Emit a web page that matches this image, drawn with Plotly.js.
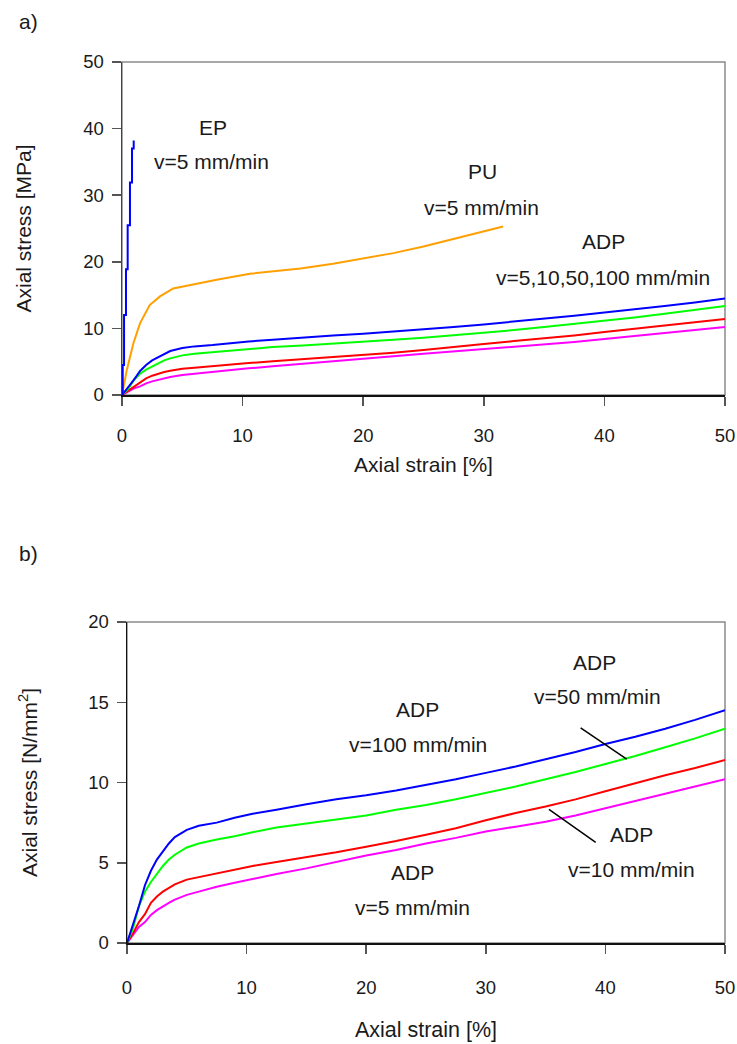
<!DOCTYPE html>
<html>
<head>
<meta charset="utf-8">
<script src="https://cdn.plot.ly/plotly-3.0.1.min.js"></script>
<style>
  html, body { margin: 0; padding: 0; background: #fff; }
  #chart { width: 737px; height: 1044px; }
</style>
</head>
<body>
<div id="chart"></div>
<script>
// Epoxy (EP), v = 5 mm/min
const epStrain = [0, 0.06, 0.17, 0.33, 0.47, 0.66, 0.83, 0.97];
const epStress = [0, 4.5, 12.0, 18.9, 25.5, 31.9, 37.0, 38.2];

// Polyurethane (PU), v = 5 mm/min
const puStrain = [0, 0.4, 0.95, 1.5, 2.3, 3.15, 4.25, 5.6, 7.85, 10.6, 14.8, 17.5, 20, 22.5, 25, 28, 31.6];
const puStress = [0, 3.75, 7.8, 10.8, 13.5, 14.8, 16.0, 16.5, 17.3, 18.2, 19.0, 19.7, 20.5, 21.3, 22.3, 23.7, 25.3];

// ADP, common strain grid [%]
const adpStrain = [0, 0.5, 1.0, 1.5, 2.0, 2.5, 3.0, 3.5, 4.0, 5.0, 6.0, 7.5, 9, 10.5, 12.5, 15, 17.5, 20, 22.5, 25, 27.5, 30, 32.5, 35, 37.5, 40, 42.5, 45, 47.5, 50];
// ADP stresses per test speed
const adp100 = [0, 1.1, 2.3, 3.6, 4.5, 5.2, 5.7, 6.2, 6.6, 7.05, 7.3, 7.5, 7.8, 8.05, 8.3, 8.65, 8.95, 9.2, 9.5, 9.85, 10.2, 10.6, 11.0, 11.45, 11.9, 12.4, 12.85, 13.35, 13.9, 14.5];
const adp50  = [0, 0.9, 2.3, 3.2, 3.8, 4.3, 4.8, 5.2, 5.5, 5.95, 6.2, 6.45, 6.65, 6.9, 7.2, 7.45, 7.7, 7.95, 8.3, 8.6, 8.95, 9.35, 9.75, 10.2, 10.65, 11.15, 11.65, 12.2, 12.75, 13.35];
const adp10  = [0, 0.6, 1.3, 1.8, 2.5, 2.9, 3.2, 3.45, 3.65, 3.95, 4.1, 4.35, 4.55, 4.8, 5.05, 5.35, 5.65, 6.0, 6.35, 6.75, 7.15, 7.65, 8.1, 8.5, 8.95, 9.45, 9.95, 10.45, 10.9, 11.4];
const adp5   = [0, 0.5, 1.0, 1.3, 1.75, 2.05, 2.3, 2.5, 2.7, 3.0, 3.2, 3.5, 3.75, 4.0, 4.3, 4.65, 5.05, 5.45, 5.8, 6.2, 6.55, 6.95, 7.25, 7.55, 7.95, 8.4, 8.85, 9.3, 9.75, 10.2];

const adpSeries = [
  {name: 'ADP v=100 mm/min', y: adp100, color: '#0000ff'},
  {name: 'ADP v=50 mm/min',  y: adp50,  color: '#00ff00'},
  {name: 'ADP v=10 mm/min',  y: adp10,  color: '#ff0000'},
  {name: 'ADP v=5 mm/min',   y: adp5,   color: '#ff00ff'}
];

const xTicks = [0, 10, 20, 30, 40, 50];
const yTicksA = [0, 10, 20, 30, 40, 50];
const yTicksB = [0, 5, 10, 15, 20];

const FONT = 'Liberation Sans, Arial, sans-serif';
const INK = '#1a1a1a';

const traces = [];
// panel a
adpSeries.slice().reverse().forEach(s => traces.push({
  x: adpStrain, y: s.y, xaxis: 'x', yaxis: 'y', mode: 'lines', name: s.name,
  line: {color: s.color, width: 2}
}));
traces.push({x: puStrain, y: puStress, xaxis: 'x', yaxis: 'y', mode: 'lines', name: 'PU',
  line: {color: '#ffa000', width: 2}});
traces.push({x: epStrain, y: epStress, xaxis: 'x', yaxis: 'y', mode: 'lines', name: 'EP',
  line: {color: '#0000ff', width: 2, shape: 'hv'}});
// panel b
adpSeries.slice().reverse().forEach(s => traces.push({
  x: adpStrain, y: s.y, xaxis: 'x2', yaxis: 'y2', mode: 'lines', name: s.name,
  line: {color: s.color, width: 2}
}));

const tickFont = {family: FONT, size: 18.5, color: INK};

function xAxis(domain, anchor, standoff, titleSize, titleStandoff) {
  return {
    domain: domain, anchor: anchor, range: [0, 50], tickvals: xTicks,
    ticks: 'outside', ticklen: 9, tickwidth: 1.5, tickcolor: '#555',
    showline: true, linecolor: '#111', linewidth: 1.5,
    showgrid: false, zeroline: false, fixedrange: true,
    tickfont: tickFont,
    ticklabelstandoff: standoff,
    ticklabeloverflow: 'allow',
    title: {text: 'Axial strain [%]', font: {family: FONT, size: titleSize, color: INK}, standoff: titleStandoff}
  };
}
function yAxis(domain, anchor, range, vals, title, lineColor, titleStandoff) {
  return {
    domain: domain, anchor: anchor, range: range, tickvals: vals,
    ticks: 'outside', ticklen: 9, tickwidth: 1.5, tickcolor: '#555',
    showline: true, linecolor: lineColor, linewidth: 1.5,
    showgrid: false, zeroline: false, fixedrange: true,
    tickfont: tickFont,
    ticklabelstandoff: 4,
    title: {text: title, font: {family: FONT, size: 21, color: INK}, standoff: titleStandoff}
  };
}

function label(xref, yref, x, y, text) {
  return {xref: xref, yref: yref, x: x, y: y, text: text, showarrow: false,
    xanchor: 'center', yanchor: 'middle', font: {family: FONT, size: 21, color: INK}};
}

const annotations = [
  {xref: 'paper', yref: 'paper', x: 28 / 737, y: 1 - 22 / 1044, text: 'a)', showarrow: false,
   xanchor: 'center', yanchor: 'middle', font: {family: FONT, size: 21, color: INK}},
  {xref: 'paper', yref: 'paper', x: 28 / 737, y: 1 - 553 / 1044, text: 'b)', showarrow: false,
   xanchor: 'center', yanchor: 'middle', font: {family: FONT, size: 21, color: INK}},
  label('x', 'y', 7.55, 40.1, 'EP'),
  label('x', 'y', 7.4, 35.0, 'v=5 mm/min'),
  label('x', 'y', 29.9, 33.5, 'PU'),
  label('x', 'y', 29.85, 28.2, 'v=5 mm/min'),
  label('x', 'y', 39.9, 23.0, 'ADP'),
  label('x', 'y', 39.9, 17.7, 'v=5,10,50,100 mm/min'),
  label('x2', 'y2', 39.1, 17.45, 'ADP'),
  label('x2', 'y2', 39.3, 15.33, 'v=50 mm/min'),
  label('x2', 'y2', 24.25, 14.52, 'ADP'),
  label('x2', 'y2', 24.33, 12.34, 'v=100 mm/min'),
  label('x2', 'y2', 23.9, 4.42, 'ADP'),
  label('x2', 'y2', 23.83, 2.24, 'v=5 mm/min'),
  label('x2', 'y2', 42.2, 6.73, 'ADP'),
  label('x2', 'y2', 42.2, 4.55, 'v=10 mm/min')
];

const shapes = [
  // light frame on the top and right sides of each panel
  {type: 'rect', xref: 'x domain', yref: 'y domain', x0: 0, x1: 1, y0: 0, y1: 1,
   line: {color: '#8a8a8a', width: 1.5}, layer: 'below'},
  {type: 'rect', xref: 'x2 domain', yref: 'y2 domain', x0: 0, x1: 1, y0: 0, y1: 1,
   line: {color: '#8a8a8a', width: 1.5}, layer: 'below'},
  // leader lines in panel b
  {type: 'line', xref: 'x2', yref: 'y2', x0: 37.93, y0: 13.41, x1: 41.78, y1: 11.45,
   line: {color: '#000', width: 1.5}},
  {type: 'line', xref: 'x2', yref: 'y2', x0: 35.28, y0: 8.33, x1: 39.19, y1: 6.27,
   line: {color: '#000', width: 1.5}}
];

const layout = {
  width: 737, height: 1044,
  margin: {l: 0, r: 0, t: 0, b: 0},
  paper_bgcolor: '#fff', plot_bgcolor: '#fff',
  showlegend: false,
  xaxis: xAxis([122 / 737, 725 / 737], 'y', 14, 21, 12),
  yaxis: yAxis([1 - 395 / 1044, 1 - 62 / 1044], 'x', [0, 50], yTicksA, 'Axial stress [MPa]', '#444', 46),
  xaxis2: xAxis([127 / 737, 725 / 737], 'y2', 18, 21.5, 25),
  yaxis2: yAxis([1 - 943 / 1044, 1 - 622 / 1044], 'x2', [0, 20], yTicksB, 'Axial stress [N/mm<sup>2</sup>]', '#111', 45),
  annotations: annotations,
  shapes: shapes
};

Plotly.newPlot('chart', traces, layout, {displayModeBar: false, staticPlot: true});
</script>
</body>
</html>
